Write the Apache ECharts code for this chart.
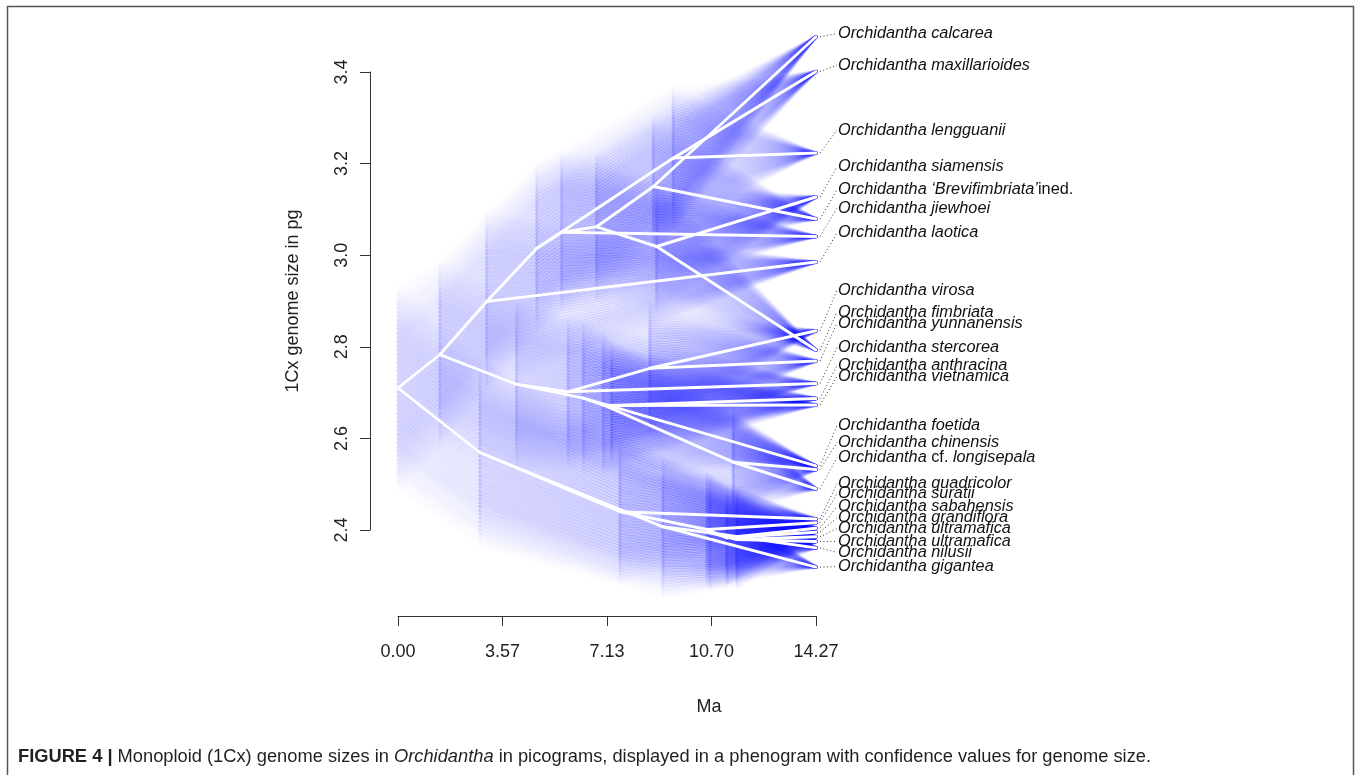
<!DOCTYPE html>
<html>
<head>
<meta charset="utf-8">
<title>Orchidantha phenogram</title>
<script src="https://cdn.jsdelivr.net/npm/echarts@6/dist/echarts.min.js"></script>
<style>
  html, body { margin: 0; padding: 0; background: #fff; }
  #chart { width: 1360px; height: 775px; }
</style>
</head>
<body>
<div id="chart"></div>
<script>
// tips, top to bottom (rich text tags: i = italic)
const tipLabels = [
  '{i|Orchidantha calcarea}',
  '{i|Orchidantha maxillarioides}',
  '{i|Orchidantha lengguanii}',
  '{i|Orchidantha siamensis}',
  '{i|Orchidantha ‘Brevifimbriata’}ined.',
  '{i|Orchidantha jiewhoei}',
  '{i|Orchidantha laotica}',
  '{i|Orchidantha virosa}',
  '{i|Orchidantha fimbriata}',
  '{i|Orchidantha yunnanensis}',
  '{i|Orchidantha stercorea}',
  '{i|Orchidantha anthracina}',
  '{i|Orchidantha vietnamica}',
  '{i|Orchidantha foetida}',
  '{i|Orchidantha chinensis}',
  '{i|Orchidantha} cf. {i|longisepala}',
  '{i|Orchidantha quadricolor}',
  '{i|Orchidantha suratii}',
  '{i|Orchidantha sabahensis}',
  '{i|Orchidantha grandiflora}',
  '{i|Orchidantha ultramafica}',
  '{i|Orchidantha ultramafica}',
  '{i|Orchidantha nilusii}',
  '{i|Orchidantha gigantea}'
];
// 1Cx value of each tip (pg)
const tipValues = [3.477, 3.401, 3.223, 3.127, 3.079, 3.041, 2.985, 2.835, 2.793, 2.769, 2.720, 2.687,
  2.673, 2.540, 2.532, 2.490, 2.424, 2.416, 2.404, 2.395, 2.385, 2.375, 2.361, 2.319];
// where the spread labels sit on the y scale
const labelValues = [3.484, 3.415, 3.273, 3.193, 3.143, 3.103, 3.049, 2.924, 2.876, 2.852, 2.798, 2.759,
  2.735, 2.628, 2.591, 2.558, 2.501, 2.479, 2.451, 2.427, 2.403, 2.375, 2.351, 2.320];
const tipAge = 14.27;

// internal nodes: age (Ma), ancestral estimate, half width of 95% CI
const nodeIds    = ['R', 'A', 'B', 'C', 'D', 'E', 'F', 'G', 'H', 'J', 'L', 'M', 'N', 'O', 'P', 'S', 'Q', 'U1', 'U2', 'U3', 'U4', 'U5', 'U6'];
const nodeAges   = [0, 1.43, 2.80, 3.03, 4.05, 4.74, 5.59, 6.78, 9.40, 8.72, 8.83, 5.81, 8.60, 6.33, 7.01, 7.30, 11.45, 7.58, 9.05, 10.55, 10.65, 11.23, 11.57];
const nodeValues = [2.710, 2.783, 2.569, 2.899, 2.718, 3.015, 3.050, 3.062, 3.212, 3.150, 3.019, 2.702, 2.753, 2.688, 2.673, 2.672, 2.548, 2.440, 2.407, 2.401, 2.394, 2.383, 2.379];
const nodeCI     = [0.23, 0.21, 0.21, 0.20, 0.19, 0.19, 0.18, 0.17, 0.16, 0.16, 0.15, 0.17, 0.15, 0.17, 0.16, 0.14, 0.12, 0.16, 0.16, 0.13, 0.13, 0.11, 0.11];

// branches: parent -> child (numbers are tip indices)
const edges = [
  ['R', 'A'], ['R', 'B'],
  ['A', 'C'], ['A', 'D'],
  ['C', 'E'], ['C', 6],
  ['E', 'H'], ['E', 'F'],
  ['F', 5], ['F', 'G'],
  ['G', 'J'], ['G', 'L'],
  ['J', 4], ['J', 0],
  ['L', 3], ['L', 8],
  ['H', 2], ['H', 1],
  ['D', 'M'], ['D', 'O'],
  ['M', 'N'], ['M', 10],
  ['N', 7], ['N', 9],
  ['O', 13], ['O', 'P'],
  ['P', 'S'], ['P', 'Q'],
  ['S', 11], ['S', 12],
  ['Q', 14], ['Q', 15],
  ['B', 'U1'], ['B', 'U2'],
  ['U1', 16], ['U1', 'U3'],
  ['U3', 17], ['U3', 'U5'],
  ['U5', 18], ['U5', 19],
  ['U2', 'U4'], ['U2', 23],
  ['U4', 'U6'], ['U4', 22],
  ['U6', 20], ['U6', 21]
];

const xTickLabels = ['0.00', '3.57', '7.13', '10.70', '14.27'];

const FONT = "'Liberation Sans', Arial, Helvetica, sans-serif";

function point(key) {
  if (typeof key === 'number') return [tipAge, tipValues[key], 0];
  const k = nodeIds.indexOf(key);
  return [nodeAges[k], nodeValues[k], nodeCI[k]];
}

const edgeData = edges.map(e => point(e[0]).concat(point(e[1])));

// fan of translucent trees from the CI bounds towards the estimate
const LEVELS = 26;
function levelAlpha(i) {
  const t = i / (LEVELS - 1);
  return 0.085 * Math.min(1, t / 0.45);
}

const xStep = tipAge / 4;

const chart = echarts.init(document.getElementById('chart'));

chart.setOption({
  animation: false,
  backgroundColor: '#fff',
  title: {
    left: 18,
    top: 748,
    padding: 0,
    text: '{b|FIGURE 4 |} Monoploid (1Cx) genome sizes in {i|Orchidantha} in picograms, displayed in a phenogram with confidence values for genome size.',
    textStyle: {
      fontFamily: FONT, fontSize: 18.3, fontWeight: 'normal', color: '#231f20',
      rich: {
        b: { fontFamily: FONT, fontSize: 18.3, fontWeight: 'bold', color: '#231f20' },
        i: { fontFamily: FONT, fontSize: 18.3, fontStyle: 'italic', color: '#231f20' }
      }
    }
  },
  graphic: [{
    type: 'rect',
    shape: { x: 7.5, y: 6.5, width: 1346, height: 800 },
    style: { fill: 'none', stroke: '#555', lineWidth: 1.5 },
    silent: true
  }],
  grid: { left: 398, top: 72, width: 418, height: 458, outerBoundsMode: 'none' },
  xAxis: {
    type: 'value',
    min: 0,
    max: tipAge,
    interval: xStep,
    offset: 86,
    name: 'Ma',
    nameLocation: 'middle',
    nameGap: 82,
    nameTextStyle: { fontFamily: FONT, fontSize: 18, color: '#222', padding: [0, 0, 0, 204] },
    axisLine: { show: true, onZero: false, lineStyle: { color: '#333', width: 1 } },
    axisTick: { show: true, length: 10, lineStyle: { color: '#333', width: 1 } },
    axisLabel: {
      margin: 27, fontFamily: FONT, fontSize: 18, color: '#222',
      formatter: v => xTickLabels[Math.round(v / xStep)]
    },
    splitLine: { show: false }
  },
  yAxis: {
    type: 'value',
    min: 2.4,
    max: 3.4,
    interval: 0.2,
    offset: 28,
    name: '1Cx genome size in pg',
    nameLocation: 'middle',
    nameRotate: 90,
    nameGap: 68,
    nameTextStyle: { fontFamily: FONT, fontSize: 18, color: '#222' },
    axisLine: { show: true, onZero: false, lineStyle: { color: '#333', width: 1 } },
    axisTick: { show: true, length: 10, lineStyle: { color: '#333', width: 1 } },
    axisLabel: {
      rotate: 90, margin: 19, fontFamily: FONT, fontSize: 18, color: '#222',
      formatter: v => v.toFixed(1)
    },
    splitLine: { show: false }
  },
  series: [
    {
      // confidence fans
      type: 'custom',
      silent: true,
      clip: false,
      encode: { x: [0, 3], y: [1, 4] },
      data: edgeData,
      renderItem: function (params, api) {
        const x0 = api.value(0), v0 = api.value(1), c0 = api.value(2);
        const x1 = api.value(3), v1 = api.value(4), c1 = api.value(5);
        const children = [];
        for (let i = 0; i < LEVELS; i++) {
          const p = i / (LEVELS - 1);
          const a = levelAlpha(i);
          if (a <= 0) continue;
          for (const s of [-1, 1]) {
            const p0 = api.coord([x0, v0 + s * (1 - p) * c0]);
            const p1 = api.coord([x1, v1 + s * (1 - p) * c1]);
            children.push({
              type: 'line',
              shape: { x1: p0[0], y1: p0[1], x2: p1[0], y2: p1[1] },
              style: { stroke: 'rgba(0,0,255,' + a.toFixed(4) + ')', lineWidth: 3.5, lineCap: 'round' },
              silent: true
            });
          }
        }
        return { type: 'group', children: children };
      }
    },
    {
      // the tree itself
      type: 'custom',
      silent: true,
      clip: false,
      encode: { x: [0, 3], y: [1, 4] },
      data: edgeData,
      renderItem: function (params, api) {
        const p0 = api.coord([api.value(0), api.value(1)]);
        const p1 = api.coord([api.value(3), api.value(4)]);
        return {
          type: 'line',
          shape: { x1: p0[0], y1: p0[1], x2: p1[0], y2: p1[1] },
          style: { stroke: '#fff', lineWidth: 3, lineCap: 'round' }
        };
      }
    },
    {
      // tip labels with dotted links
      type: 'custom',
      silent: true,
      clip: false,
      encode: { x: 0, y: 1 },
      data: tipValues.map((v, i) => [tipAge, v, labelValues[i], i]),
      renderItem: function (params, api) {
        const tip = api.coord([api.value(0), api.value(1)]);
        const lab = api.coord([api.value(0), api.value(2)]);
        const idx = api.value(3);
        return {
          type: 'group',
          children: [
            {
              type: 'line',
              shape: { x1: tip[0] + 4, y1: tip[1], x2: lab[0] + 21, y2: lab[1] },
              style: { stroke: '#333', lineWidth: 1, lineDash: [1, 2.5] }
            },
            {
              type: 'text',
              x: lab[0] + 22,
              y: lab[1],
              style: {
                text: tipLabels[idx],
                fontFamily: FONT, fontSize: 16.3, fill: '#111',
                verticalAlign: 'middle', align: 'left',
                rich: {
                  i: { fontFamily: FONT, fontSize: 16.3, fontStyle: 'italic', fill: '#111' }
                }
              }
            }
          ]
        };
      }
    }
  ]
});
</script>
</body>
</html>
